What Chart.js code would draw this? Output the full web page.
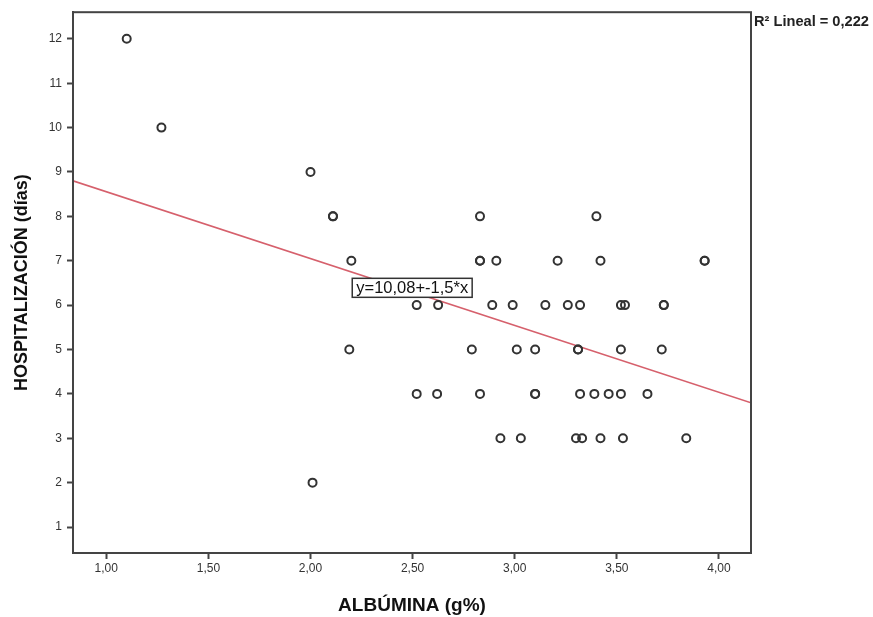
<!DOCTYPE html>
<html><head><meta charset="utf-8">
<script src="https://cdn.jsdelivr.net/npm/chart.js@4"></script>
<style>html,body{margin:0;padding:0;background:#fff}#wrap{width:873px;height:617px}</style>
</head><body><div id="wrap"><canvas id="c" width="873" height="617"></canvas></div>
<script>
// ---- data ----
const albumina = [1.10,1.27,2.00,2.11,2.11,2.83,3.40,
  2.20,2.83,2.83,2.91,3.21,3.42,3.93,3.93,
  2.52,2.625,2.89,2.99,3.15,3.26,3.32,3.52,3.54,3.73,3.73,
  2.19,2.79,3.01,3.10,3.31,3.31,3.52,3.72,
  2.52,2.62,2.83,3.10,3.10,3.32,3.39,3.46,3.52,3.65,
  2.93,3.03,3.30,3.33,3.42,3.53,3.84,
  2.01];
const hospitalizacion = [12,10,9,8,8,8,8,
  7,7,7,7,7,7,7,7,
  6,6,6,6,6,6,6,6,6,6,6,
  5,5,5,5,5,5,5,5,
  4,4,4,4,4,4,4,4,4,4,
  3,3,3,3,3,3,3,
  2];
const fitX = [0.837, 4.157];
const fitY = [8.80, 3.80];
const xTicks = [1, 1.5, 2, 2.5, 3, 3.5, 4];
const yTicks = [1,2,3,4,5,6,7,8,9,10,11,12];
const xTitle = 'ALBÚMINA (g%)';
const yTitle = 'HOSPITALIZACIÓN (días)';
const equationLabel = 'y=10,08+-1,5*x';
const equationAt = [2.498, 6.39];
const r2Label = 'R² Lineal = 0,222';

const FONT = 'Arial, "Liberation Sans", sans-serif';
const points = albumina.map((x,i)=>({x:x, y:hospitalizacion[i]}));
const fitLine = fitX.map((x,i)=>({x:x, y:fitY[i]}));

const framePlugin = {
  id:'frame',
  afterDatasetsDraw(chart){
    const {ctx, chartArea:a, scales} = chart;
    ctx.save();
    ctx.strokeStyle = '#444';
    ctx.lineWidth = 2;
    ctx.strokeRect(a.left, a.top, a.right - a.left, a.bottom - a.top);
    // equation label
    const cx = scales.x.getPixelForValue(equationAt[0]);
    const cy = scales.y.getPixelForValue(equationAt[1]);
    let fs = 14;
    ctx.font = fs + 'px ' + FONT;
    const w0 = ctx.measureText(equationLabel).width;
    fs = fs * 112 / w0;
    ctx.font = fs + 'px ' + FONT;
    const w = ctx.measureText(equationLabel).width;
    const bw = w + 8, bh = 19;
    ctx.fillStyle = '#fff';
    ctx.fillRect(cx - bw/2, cy - bh/2, bw, bh);
    ctx.strokeStyle = '#333';
    ctx.lineWidth = 1.5;
    ctx.strokeRect(cx - bw/2, cy - bh/2, bw, bh);
    ctx.fillStyle = '#111';
    ctx.textAlign = 'center';
    ctx.textBaseline = 'middle';
    ctx.fillText(equationLabel, cx, cy + 1);
    // R2 label
    let f2 = 11;
    ctx.font = 'bold ' + f2 + 'px ' + FONT;
    const r0 = ctx.measureText(r2Label).width;
    f2 = f2 * 115 / r0;
    ctx.font = 'bold ' + f2 + 'px ' + FONT;
    ctx.textAlign = 'left';
    ctx.textBaseline = 'middle';
    ctx.fillStyle = '#222';
    ctx.fillText(r2Label, a.right + 3, 22);
    ctx.restore();
  }
};

new Chart(document.getElementById('c'), {
  type: 'scatter',
  data: {
    datasets: [
      {
        type: 'line',
        data: fitLine,
        borderColor: 'rgb(214,96,108)',
        borderWidth: 1.6,
        pointRadius: 0,
        fill: false,
        order: 2
      },
      {
        data: points,
        pointStyle: 'circle',
        pointRadius: 4,
        pointBorderWidth: 2,
        borderColor: '#333',
        backgroundColor: 'rgba(255,255,255,0)',
        pointBackgroundColor: 'rgba(255,255,255,0)',
        order: 1
      }
    ]
  },
  options: {
    responsive: false,
    animation: false,
    layout: { padding: { top: 11, right: 122, left: 11, bottom: 0 } },
    plugins: { legend: { display: false }, tooltip: { enabled: false } },
    scales: {
      x: {
        type: 'linear',
        min: 0.837, max: 4.157,
        afterBuildTicks: s => { s.ticks = xTicks.map(v => ({value: v})); },
        afterFit: s => { s.height = 617 - 553; },
        ticks: {
          callback: v => v.toFixed(2).replace('.', ','),
          font: { family: FONT, size: 12 },
          color: '#333',
          padding: 2,
          maxRotation: 0
        },
        grid: { drawOnChartArea: false, drawTicks: true, tickLength: 6, tickWidth: 2, tickColor: '#444' },
        border: { display: true, color: '#444', width: 2 },
        title: {
          display: true, text: xTitle,
          font: { family: FONT, size: 19, weight: 'bold' },
          color: '#111',
          padding: { top: 8, bottom: 0 }
        }
      },
      y: {
        type: 'linear',
        min: 0.415, max: 12.6,
        afterBuildTicks: s => { s.ticks = yTicks.map(v => ({value: v})); },
        afterFit: s => { s.width = 62; },
        ticks: {
          font: { family: FONT, size: 12 },
          color: '#333',
          padding: 5
        },
        grid: { drawOnChartArea: false, drawTicks: true, tickLength: 6, tickWidth: 2, tickColor: '#444' },
        border: { display: true, color: '#444', width: 2 },
        title: {
          display: true, text: yTitle,
          font: { family: FONT, size: 18, weight: 'bold' },
          color: '#111',
          padding: { top: 0, bottom: 4 }
        }
      }
    }
  },
  plugins: [framePlugin]
});
</script>
</body></html>
